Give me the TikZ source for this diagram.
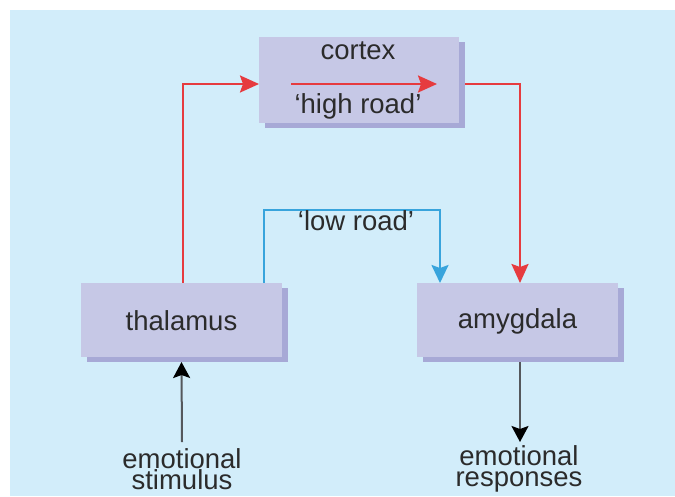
\documentclass[tikz,border=0pt]{standalone}
\usepackage{fontspec}
\setmainfont{Liberation Sans}
\usetikzlibrary{arrows.meta,shadows}
\definecolor{bgc}{HTML}{D2EDFA}
\definecolor{boxc}{HTML}{C6C8E6}
\definecolor{shadc}{HTML}{A7A9D6}
\definecolor{redc}{HTML}{E63B3F}
\definecolor{bluec}{HTML}{38A4DC}
\definecolor{txtc}{HTML}{2B2B2B}
\definecolor{grayc}{HTML}{55585C}
\pgfdeclarelayer{bg}
\pgfdeclarelayer{lines}
\pgfsetlayers{bg,lines,main}
\tikzset{
  region/.style={fill=boxc, draw=none, inner sep=0pt, outer sep=0pt,
    drop shadow={shadow xshift=6pt, shadow yshift=-5pt, opacity=1, fill=shadc}},
  lbl/.style={text=txtc, font=\fontsize{27.5}{21.5}\selectfont, inner sep=0pt, align=center},
  redarrow/.style={draw=redc, line width=2.3pt, -{Stealth[length=19pt,width=17pt,inset=3pt]}},
  bluearrow/.style={draw=bluec, line width=2.2pt, -{Stealth[length=18pt,width=17pt,inset=3pt]}},
  blackarrow/.style={draw=grayc, line width=2pt, -{Stealth[length=16pt,width=17pt,inset=3pt,color=black,fill=black]}}
}
\begin{document}
\begin{tikzpicture}[x=1pt,y=-1pt]
\useasboundingbox (0,0) rectangle (675,496);
\begin{pgfonlayer}{bg}
\fill[bgc] (10,10) rectangle (675,496);
\end{pgfonlayer}

\node[region, minimum width=200pt, minimum height=86pt] (cortex) at (359,80) {};
\node[region, minimum width=201pt, minimum height=74pt] (thalamus) at (181.5,320) {};
\node[region, minimum width=201pt, minimum height=74pt] (amygdala) at (517.5,320) {};

\node[lbl] (cortexlbl) at (358,51) {cortex};
\node[lbl] (highlbl) at (358,106) {‘high road’};
\node[lbl] (thallbl) at ([yshift=-1pt]thalamus.center) {thalamus};
\node[lbl] (amylbl) at ([yshift=-1pt]amygdala.center) {amygdala};
\node[lbl] (lowlbl) at (356,221) {‘low road’};
\node[lbl] (stim) at (182,469) {emotional\\stimulus};
\node[lbl] (resp) at (519,469) {emotional\\responses};

\coordinate (hs) at (291,84);
\coordinate (he) at (437,84);
\coordinate (stimtop) at (182,442);
\coordinate (respend) at (520,442);
\draw[redarrow] (hs) -- (he);

\begin{pgfonlayer}{lines}
\draw[redarrow] ([xshift=1.5pt]thalamus.north) |- ([yshift=-4pt]cortex.west);
\draw[redarrow] ([yshift=-4pt]cortex.east) -| ([xshift=2.5pt]amygdala.north);
\draw[bluearrow] ([xshift=-18pt]thalamus.north east) |- ++(0,-73) -| ([xshift=23pt]amygdala.north west);
\end{pgfonlayer}
\draw[blackarrow] (stimtop) -- ([yshift=-5pt]thalamus.south);
\draw[blackarrow] ([xshift=2.5pt,yshift=-5pt]amygdala.south) -- (respend);
\end{tikzpicture}
\end{document}
